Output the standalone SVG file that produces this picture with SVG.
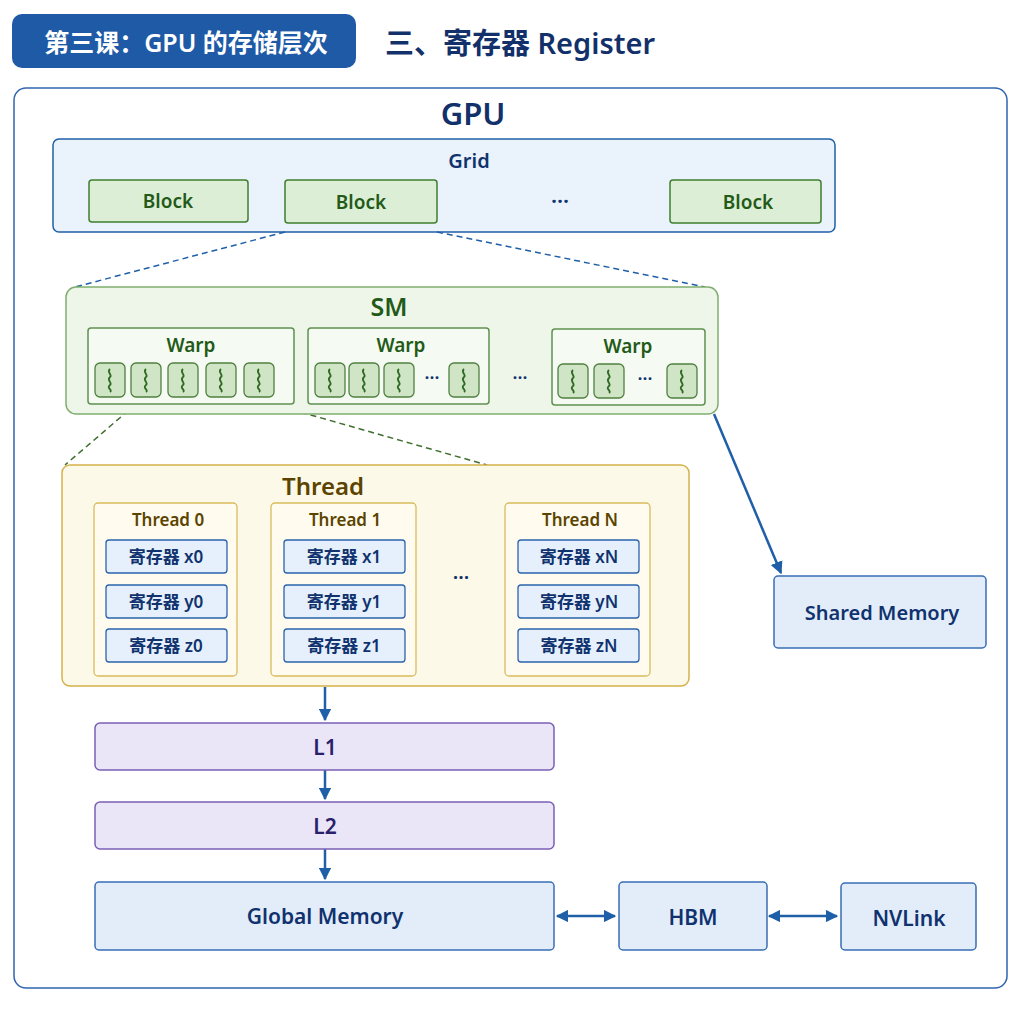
<svg xmlns="http://www.w3.org/2000/svg" width="1024" height="1024" viewBox="0 0 1024 1024">
<style>
text{font-family:"Noto Sans","Noto Sans CJK SC",sans-serif;text-anchor:middle;dominant-baseline:central;font-weight:600}
.blue{fill:#eaf2fb;stroke:#1f5fa8;stroke-width:1.5}
.blk{fill:#dcefd6;stroke:#3f7f2f;stroke-width:1.5}
.sm{fill:#eef6ea;stroke:#7fae6e;stroke-width:1.5}
.wp{fill:#f5faf2;stroke:#5f9150;stroke-width:1.5}
.cell{fill:#cfe5c6;stroke:#4f8040;stroke-width:1.3}
.thr{fill:#fdf9e8;stroke:#d4b14a;stroke-width:1.5}
.thi{fill:#fffcef;stroke:#d9bb5c;stroke-width:1.3}
.reg{fill:#e6f0fc;stroke:#2b63ad;stroke-width:1.3}
.cache{fill:#ebe5f8;stroke:#7b5fb5;stroke-width:1.5}
.mem{fill:#e3edfa;stroke:#3a6db5;stroke-width:1.5}
.tb{fill:#10326e}.tg{fill:#245a18}.ty{fill:#5c4400}
.dash{fill:none;stroke-width:1.5;stroke-dasharray:6 4}
.arr{fill:none;stroke:#1f5fa8;stroke-width:2.5}
</style>
<defs>
<marker id="ah" viewBox="0 0 10 10" refX="9" refY="5" markerWidth="5" markerHeight="5" orient="auto-start-reverse"><path d="M0,0L10,5L0,10z" fill="#1f5fa8"/></marker>
<g id="c"><rect x="-15" y="-17" width="30" height="34" rx="5" class="cell"/><path d="M0,-11c-4,3 3,6 0,8c-4,3 3,6 0,8c-4,3 3,5 0,7" fill="none" stroke="#2f6a22" stroke-width="1.8"/></g>
</defs>
<rect width="1024" height="1024" fill="#fff"/>
<g id="title">
<rect x="12" y="14" width="344" height="54" rx="10" fill="#1f5aa6"/>
<text x="186" y="42" font-size="25" font-weight="bold" fill="#fff">第三课：GPU 的存储层次</text>
<text x="520" y="42" font-size="29" font-weight="bold" fill="#12306a">三、寄存器 Register</text>
</g>
<rect x="14" y="88" width="993" height="900" rx="12" fill="#fff" stroke="#2f64b0" stroke-width="1.5"/>
<text x="473" y="113" font-size="31" font-weight="bold" fill="#12306a">GPU</text>
<g id="grid">
<rect x="53" y="139" width="782" height="93" rx="6" class="blue"/>
<text x="469" y="160" font-size="20" class="tb">Grid</text>
<rect x="89" y="180" width="159" height="42" rx="3" class="blk"/><text x="168" y="201" font-size="19" class="tg">Block</text>
<rect x="285" y="180" width="152" height="43" rx="3" class="blk"/><text x="361" y="202" font-size="19" class="tg">Block</text>
<text x="560" y="200" font-size="22" class="tb">···</text>
<rect x="670" y="180" width="151" height="43" rx="3" class="blk"/><text x="748" y="202" font-size="19" class="tg">Block</text>
</g>
<g id="connectors">
<path d="M285,232L75,287M437,232L705,287" class="dash" stroke="#1f5fa8"/>
<path d="M136,404L65,465M272,404L487,465" class="dash" stroke="#3f6f2f"/>
<path d="M714,414L781,573" class="arr" stroke-width="1.8" marker-end="url(#ah)"/>
<path d="M325,687V720" class="arr" marker-end="url(#ah)"/>
<path d="M325,770V799" class="arr" marker-end="url(#ah)"/>
<path d="M325,849V879" class="arr" marker-end="url(#ah)"/>
<path d="M557,916H615" class="arr" marker-start="url(#ah)" marker-end="url(#ah)"/>
<path d="M769,916H837" class="arr" marker-start="url(#ah)" marker-end="url(#ah)"/>
</g>
<g id="sm">
<rect x="66" y="287" width="652" height="127" rx="10" class="sm"/>
<text x="389" y="306" font-size="25" font-weight="bold" class="tg">SM</text>
<rect x="88" y="328" width="206" height="76" rx="3" class="wp"/><text x="191" y="345" font-size="19" class="tg">Warp</text>
<rect x="308" y="328" width="181" height="76" rx="3" class="wp"/><text x="401" y="345" font-size="19" class="tg">Warp</text>
<rect x="552" y="329" width="153" height="76" rx="3" class="wp"/><text x="628" y="346" font-size="19" class="tg">Warp</text>
<use href="#c" x="110" y="380"/><use href="#c" x="146" y="380"/><use href="#c" x="183" y="380"/><use href="#c" x="221" y="380"/><use href="#c" x="259" y="380"/>
<use href="#c" x="330" y="380"/><use href="#c" x="364" y="380"/><use href="#c" x="399" y="380"/><text x="432" y="377" font-size="18" class="tb">···</text><use href="#c" x="464" y="380"/>
<text x="520" y="377" font-size="18" class="tb">···</text>
<use href="#c" x="573" y="381"/><use href="#c" x="609" y="381"/><text x="645" y="378" font-size="18" class="tb">···</text><use href="#c" x="682" y="381"/>
</g>
<g id="thread">
<rect x="62" y="465" width="627" height="221" rx="8" class="thr"/>
<text x="323" y="485" font-size="24" font-weight="bold" class="ty">Thread</text>
<rect x="94" y="503" width="143" height="173" rx="4" class="thi"/><text x="168" y="519" font-size="17" class="ty">Thread 0</text>
<rect x="271" y="503" width="145" height="173" rx="4" class="thi"/><text x="345" y="519" font-size="17" class="ty">Thread 1</text>
<rect x="505" y="503" width="145" height="173" rx="4" class="thi"/><text x="580" y="519" font-size="17" class="ty">Thread N</text>
<text x="461" y="577" font-size="20" class="tb">···</text>
<g font-size="17">
<rect x="106" y="540" width="121" height="33" rx="3" class="reg"/><text x="166" y="556" class="tb">寄存器 x0</text>
<rect x="106" y="585" width="121" height="33" rx="3" class="reg"/><text x="166" y="601" class="tb">寄存器 y0</text>
<rect x="106" y="629" width="121" height="33" rx="3" class="reg"/><text x="166" y="645" class="tb">寄存器 z0</text>
<rect x="284" y="540" width="121" height="33" rx="3" class="reg"/><text x="344" y="556" class="tb">寄存器 x1</text>
<rect x="284" y="585" width="121" height="33" rx="3" class="reg"/><text x="344" y="601" class="tb">寄存器 y1</text>
<rect x="284" y="629" width="121" height="33" rx="3" class="reg"/><text x="344" y="645" class="tb">寄存器 z1</text>
<rect x="518" y="540" width="121" height="33" rx="3" class="reg"/><text x="579" y="556" class="tb">寄存器 xN</text>
<rect x="518" y="585" width="121" height="33" rx="3" class="reg"/><text x="579" y="601" class="tb">寄存器 yN</text>
<rect x="518" y="629" width="121" height="33" rx="3" class="reg"/><text x="579" y="645" class="tb">寄存器 zN</text>
</g>
</g>
<g id="shared"><rect x="774" y="576" width="212" height="72" rx="4" class="mem"/><text x="882" y="612" font-size="20" class="tb">Shared Memory</text></g>
<g id="l1"><rect x="95" y="723" width="459" height="47" rx="5" class="cache"/><text x="325" y="747" font-size="21" font-weight="bold" fill="#2a1f6a">L1</text></g>
<g id="l2"><rect x="95" y="802" width="459" height="47" rx="5" class="cache"/><text x="325" y="826" font-size="21" font-weight="bold" fill="#2a1f6a">L2</text></g>
<g id="global"><rect x="95" y="882" width="459" height="68" rx="4" class="mem"/><text x="325" y="916" font-size="21" class="tb">Global Memory</text></g>
<g id="hbm"><rect x="619" y="882" width="148" height="68" rx="4" class="mem"/><text x="693" y="917" font-size="21" class="tb">HBM</text></g>
<g id="nvlink"><rect x="841" y="883" width="135" height="67" rx="4" class="mem"/><text x="909" y="918" font-size="21" class="tb">NVLink</text></g>
</svg>
